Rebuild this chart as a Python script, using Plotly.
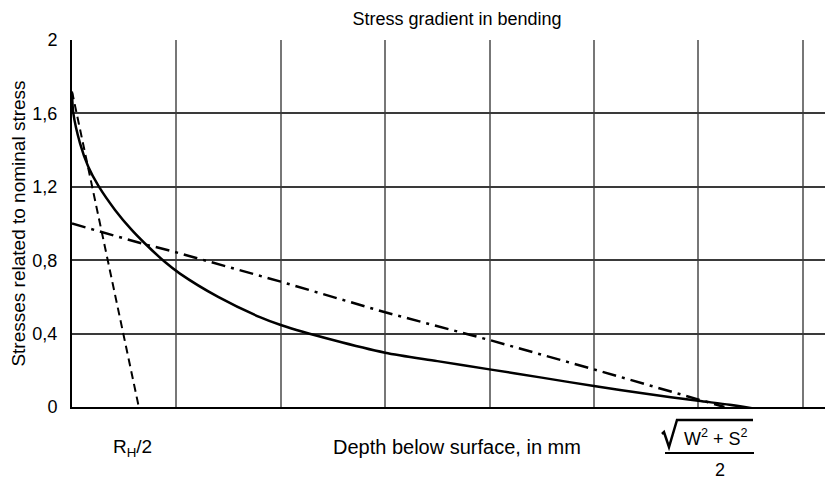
import plotly.graph_objects as go

# Depth in grid units (one grid cell per unit), stress ratio
solid_x = [0.0, 0.013, 0.077, 0.156, 0.252, 0.412, 0.572, 0.699, 0.891, 1.034, 1.4, 1.8, 2.0,
           2.5, 3.0, 3.5, 4.0, 4.5, 5.0, 5.5, 6.0, 6.3, 6.56]
solid_y = [1.71, 1.60, 1.437, 1.309, 1.206, 1.074, 0.965, 0.891, 0.79, 0.727, 0.60, 0.49, 0.447,
           0.365, 0.296, 0.25, 0.205, 0.16, 0.114, 0.072, 0.034, 0.012, -0.011]

dashdot_x = [0.0, 0.70, 0.94, 2.0, 3.0, 4.0, 5.0, 6.0, 6.25]
dashdot_y = [1.0, 0.886, 0.852, 0.683, 0.516, 0.365, 0.205, 0.042, 0.0]

dashed_x = [0.0, 0.64]
dashed_y = [1.72, 0.0]

y_ticks = [0, 0.4, 0.8, 1.2, 1.6, 2]
y_tick_labels = ["0", "0,4", "0,8", "1,2", "1,6", "2"]
x_grid = [0, 1, 2, 3, 4, 5, 6, 7]

FONT = "Liberation Sans, Arial, sans-serif"

# plot area in page pixels (page has an 8px body margin)
PL, PR, PT, PB = 72, 833, 40, 407


def px(xp):
    return (xp - PL) / (PR - PL)


def py(yp):
    return (PB - yp) / (PB - PT)


fig = go.Figure()
fig.add_trace(go.Scatter(x=dashed_x, y=dashed_y, mode="lines",
                         line=dict(color="black", width=2, dash="8px,5px")))
fig.add_trace(go.Scatter(x=dashdot_x, y=dashdot_y, mode="lines",
                         line=dict(color="black", width=2.5, dash="14px,6px,3px,6px")))
fig.add_trace(go.Scatter(x=solid_x, y=solid_y, mode="lines", line_shape="spline",
                         line=dict(color="black", width=2.5, smoothing=0.8)))

fig.update_layout(
    width=833, height=480,
    margin=dict(l=PL - 8, r=833 - PR + 8, t=PT - 8, b=480 - PB + 8, autoexpand=False),
    paper_bgcolor="white", plot_bgcolor="white",
    showlegend=False,
    font=dict(family=FONT, size=17, color="black"),
    title=dict(text="Stress gradient in bending", x=(457 - 8) / 833, xanchor="center",
               y=1 - (19 - 8) / 480, yanchor="middle", font=dict(size=18)),
    xaxis=dict(range=[0, 7.29], tickvals=x_grid, showticklabels=False, ticks="",
               showgrid=True, gridcolor="#777777", gridwidth=1.8, zeroline=False,
               showline=True, linecolor="black", linewidth=2, automargin=False),
    yaxis=dict(range=[0, 2], tickvals=y_ticks, ticktext=y_tick_labels, ticks="",
               showgrid=True, gridcolor="#3a3a3a", gridwidth=1.6, zeroline=False,
               showline=True, linecolor="black", linewidth=2, automargin=False,
               tickfont=dict(size=18), ticklabelstandoff=9,
               title=dict(text="Stresses related to nominal stress", font=dict(size=19), standoff=6)),
)

# bottom labels
fig.add_annotation(x=px(132), y=py(448), xref="paper", yref="paper", text="R<sub>H</sub>/2",
                   showarrow=False, font=dict(size=19), xanchor="center", yanchor="middle")
fig.add_annotation(x=px(457), y=py(447), xref="paper", yref="paper",
                   text="Depth below surface, in mm", showarrow=False, font=dict(size=20),
                   xanchor="center", yanchor="middle")
# fraction sqrt(W^2+S^2)/2
fig.add_annotation(x=px(716), y=py(437), xref="paper", yref="paper",
                   text="W<sup>2</sup> + S<sup>2</sup>", showarrow=False, font=dict(size=18),
                   xanchor="center", yanchor="middle")
fig.add_annotation(x=px(720), y=py(470), xref="paper", yref="paper",
                   text="2", showarrow=False, font=dict(size=18),
                   xanchor="center", yanchor="middle")
rad = [(662, 434), (664, 432), (669, 447), (677, 420), (753, 420)]
path = "M " + " L ".join(f"{px(a):.5f},{py(b):.5f}" for a, b in rad)
fig.add_shape(type="path", xref="paper", yref="paper", path=path,
              line=dict(color="black", width=2.5))
fig.add_shape(type="line", xref="paper", yref="paper",
              x0=px(665), x1=px(754), y0=py(453), y1=py(453),
              line=dict(color="black", width=2.2))

fig.write_html("out.html")
